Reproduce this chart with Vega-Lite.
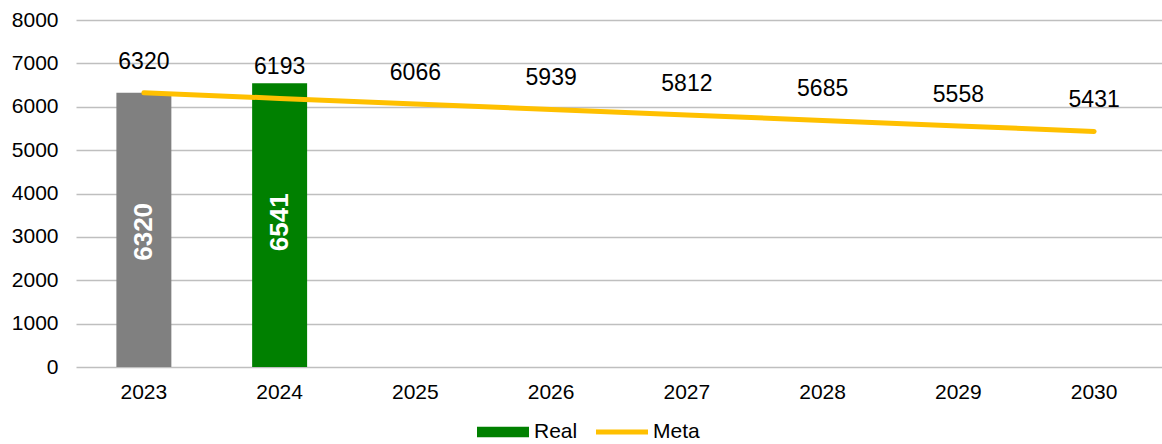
{
  "$schema": "https://vega.github.io/schema/vega-lite/v6.json",
  "width": 1086,
  "height": 347,
  "autosize": {"type": "none"},
  "padding": {"left": 76, "top": 20, "right": 0, "bottom": 77},
  "background": "white",
  "config": {
    "view": {"stroke": null},
    "font": "Liberation Sans",
    "axis": {"labelFont": "Liberation Sans", "labelColor": "#000000"},
    "legend": {"labelFont": "Liberation Sans"}
  },
  "data": {
    "values": [
      {"year": "2023", "real": 6320, "meta": 6320},
      {"year": "2024", "real": 6541, "meta": 6193},
      {"year": "2025", "real": null, "meta": 6066},
      {"year": "2026", "real": null, "meta": 5939},
      {"year": "2027", "real": null, "meta": 5812},
      {"year": "2028", "real": null, "meta": 5685},
      {"year": "2029", "real": null, "meta": 5558},
      {"year": "2030", "real": null, "meta": 5431}
    ]
  },
  "encoding": {
    "x": {
      "field": "year",
      "type": "nominal",
      "scale": {"paddingInner": 0, "paddingOuter": 0},
      "axis": {
        "title": null,
        "labelAngle": 0,
        "labelFontSize": 21,
        "labelPadding": 14,
        "domain": false,
        "ticks": false
      }
    }
  },
  "layer": [
    {
      "transform": [{"filter": "datum.real != null"}],
      "mark": {"type": "bar", "width": {"band": 0.405}},
      "encoding": {
        "y": {
          "field": "real",
          "type": "quantitative",
          "scale": {"domain": [0, 8000]},
          "axis": {
            "title": null,
            "values": [0, 1000, 2000, 3000, 4000, 5000, 6000, 7000, 8000],
            "format": "d",
            "labelFontSize": 21,
            "labelPadding": 18,
            "domain": false,
            "ticks": false,
            "gridColor": "#BFBFBF",
            "gridWidth": 1.3
          }
        },
        "color": {
          "condition": {"test": "datum.year === '2023'", "value": "#808080"},
          "datum": "Real",
          "type": "nominal",
          "scale": {"domain": ["Real", "Meta"], "range": ["#008000", "#FFC000"]},
          "legend": {
            "title": null,
            "orient": "none",
            "direction": "horizontal",
            "legendX": 401,
            "legendY": 386,
            "padding": 0,
            "labelFontSize": 21,
            "labelColor": "#000000",
            "labelOffset": 5,
            "columnPadding": 18,
            "symbolSize": 2704,
            "symbolStrokeWidth": 0,
            "symbolOpacity": 1,
            "encode": {
              "symbols": {
                "update": {
                  "shape": {"signal": "datum.value === 'Real' ? 'M-1,-0.2H1V0.2H-1Z' : 'M-1,-0.1H1V0.1H-1Z'"},
                  "opacity": {"value": 1}
                }
              }
            }
          }
        }
      }
    },
    {
      "transform": [{"filter": "datum.real != null"}],
      "mark": {"type": "text", "angle": 270, "fontSize": 26, "fontWeight": "bold", "color": "white", "baseline": "middle", "align": "center", "dx": -139},
      "encoding": {
        "y": {"field": "real", "type": "quantitative"},
        "text": {"field": "real", "type": "quantitative", "format": "d"}
      }
    },
    {
      "mark": {"type": "line", "strokeWidth": 5, "strokeCap": "round"},
      "encoding": {
        "y": {"field": "meta", "type": "quantitative"},
        "color": {"datum": "Meta", "type": "nominal"}
      }
    },
    {
      "mark": {"type": "text", "fontSize": 23, "color": "#000000", "dy": -31, "baseline": "middle", "align": "center"},
      "encoding": {
        "y": {"field": "meta", "type": "quantitative"},
        "text": {"field": "meta", "type": "quantitative", "format": "d"}
      }
    }
  ]
}
